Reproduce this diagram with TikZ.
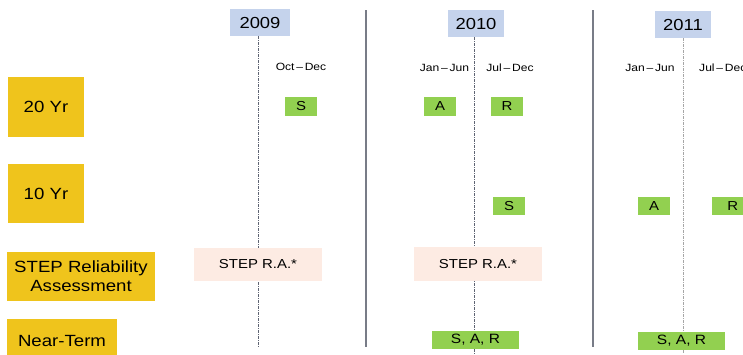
\documentclass[tikz,border=0pt]{standalone}
\usepackage{fontspec}
\setmainfont[FakeStretch=1.15]{Liberation Sans}
\definecolor{rowyellow}{RGB}{239,196,28}
\definecolor{yearblue}{RGB}{197,211,236}
\definecolor{actgreen}{RGB}{146,208,80}
\definecolor{rapink}{RGB}{253,235,227}
\definecolor{sepgray}{RGB}{120,124,135}
\definecolor{dashgray}{RGB}{95,100,115}
\tikzset{
  rowbox/.style={fill=rowyellow, inner sep=0pt, align=center, font=\fontsize{16.2}{19}\selectfont},
  yearbox/.style={fill=yearblue, inner sep=0pt, font=\fontsize{16}{18}\selectfont},
  actbox/.style={fill=actgreen, inner sep=0pt, font=\fontsize{13}{15}\selectfont},
  rabox/.style={fill=rapink, inner sep=0pt, font=\fontsize{13}{16}\selectfont},
  monthlbl/.style={inner sep=0pt, font=\fontsize{10.5}{12}\selectfont},
  sepline/.style={draw=sepgray, line width=1.2pt},
  midline/.style={draw=dashgray, line width=0.6pt, dash pattern=on 3pt off 1pt on 1pt off 1pt}
}
\begin{document}
\begin{tikzpicture}[x=1pt,y=-1pt]
\useasboundingbox (0,0) rectangle (743,354);
% separators
\coordinate (s1t) at (366,10); \coordinate (s1b) at (366,347);
\coordinate (s2t) at (593,10); \coordinate (s2b) at (593,347);
\draw[sepline] (s1t) -- (s1b);
\draw[sepline] (s2t) -- (s2b);
% year mid lines
\coordinate (m1t) at (258,36); \coordinate (m1b) at (258,348);
\coordinate (m2t) at (474,37); \coordinate (m2b) at (474,354);
\coordinate (m3t) at (683,38); \coordinate (m3b) at (683,354);
\draw[midline] (m1t) -- (m1b);
\draw[midline] (m2t) -- (m2b);
\draw[midline, draw=gray!70] (m3t) -- (m3b);
% years
\node[yearbox, minimum width=60pt, minimum height=27pt] (y2009) at (260,22.5) {2009};
\node[yearbox, minimum width=56pt, minimum height=27pt] (y2010) at (476,23.5) {2010};
\node[yearbox, minimum width=56pt, minimum height=27pt] (y2011) at (683,24.5) {2011};
% months
\node[monthlbl] (oct09) at (301,67) {Oct\,–\,Dec};
\node[monthlbl] (jan10) at (444.5,68) {Jan\,–\,Jun};
\node[monthlbl] (jul10) at (510,68) {Jul\,–\,Dec};
\node[monthlbl] (jan11) at (650,68) {Jan\,–\,Jun};
\node[monthlbl, anchor=west] (jul11) at (699,68) {Jul\,–\,Dec};
% row labels
\node[rowbox, minimum width=76pt, minimum height=60pt] (r20) at (46,107) {20 Yr};
\node[rowbox, minimum width=76pt, minimum height=59pt] (r10) at (46,193.5) {10 Yr};
\node[rowbox, minimum width=148pt, minimum height=49pt] (rstep) at (81,276.5) {STEP Reliability\\Assessment};
\node[rowbox, minimum width=110pt, minimum height=40pt, anchor=north west] (rnear) at (7,319) {};
\node[inner sep=0pt, font=\fontsize{16.2}{19}\selectfont] (rneartxt) at (62,341) {Near-Term};
% 20 Yr activities
\node[actbox, minimum width=32pt, minimum height=19pt] (s20) at (301,106.5) {S};
\node[actbox, minimum width=32pt, minimum height=19pt] (a20) at (440,106.5) {A};
\node[actbox, minimum width=32pt, minimum height=19pt] (r20b) at (507,106.5) {R};
% 10 Yr activities
\node[actbox, minimum width=32pt, minimum height=18pt] (s10) at (509,206) {S};
\node[actbox, minimum width=32pt, minimum height=18pt] (a10) at (654,206) {A};
\node[actbox, minimum width=32pt, minimum height=18pt, anchor=north west] (r10b) at (712,197) {\hspace{9pt}R};
% STEP RA
\node[rabox, minimum width=128pt, minimum height=33pt] (ra09) at (258,264.5) {STEP R.A.*};
\node[rabox, minimum width=128pt, minimum height=34pt] (ra10) at (478,264) {STEP R.A.*};
% Near-term
\node[actbox, font=\fontsize{13.5}{16}\selectfont, minimum width=87pt, minimum height=18pt] (n10) at (475.5,340) {S, A, R};
\node[actbox, font=\fontsize{13.5}{16}\selectfont, minimum width=87pt, minimum height=18pt] (n11) at (681.5,341) {S, A, R};
\end{tikzpicture}
\end{document}
